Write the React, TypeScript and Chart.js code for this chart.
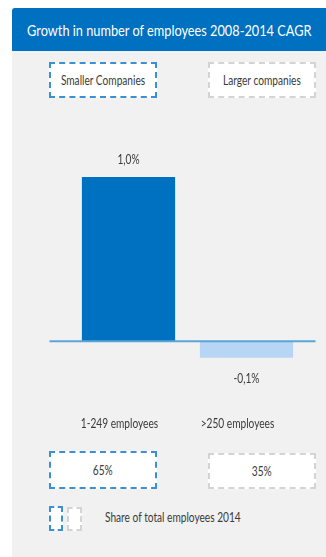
import React, { useEffect, useRef } from "react";
import { Chart, registerables } from "chart.js";

Chart.register(...registerables);

const title = "Growth in number of employees 2008-2014 CAGR";
const groupLabels = ["Smaller Companies", "Larger companies"];
const categories = ["1-249 employees", ">250 employees"];
const growthValues = [1.0, -0.1];
const growthLabels = ["1,0%", "-0,1%"];
const shareLabels = ["65%", "35%"];
const shareCaption = "Share of total employees 2014";

const FONT = "Lato, 'Open Sans', sans-serif";
const TEXT = "#3a3a3a";
const BLUE = "#0070c0";
const LIGHT = "#b7d5f4";
const SQ = 0.78;

function narrowText(ctx: CanvasRenderingContext2D, text: string, x: number, y: number) {
  ctx.save();
  ctx.translate(x, y);
  ctx.scale(SQ, 1);
  ctx.fillText(text, 0, 0);
  ctx.restore();
}

const valueLabelPlugin = {
  id: "valueLabels",
  afterDatasetsDraw(chart: any) {
    const ctx = chart.ctx;
    const meta = chart.getDatasetMeta(0);
    const yScale = chart.scales.y;
    const xScale = chart.scales.x;
    const zero = yScale.getPixelForValue(0);
    ctx.save();
    ctx.strokeStyle = "#5aa5d8";
    ctx.lineWidth = 2;
    ctx.beginPath();
    ctx.moveTo(chart.chartArea.left - 20, zero);
    ctx.lineTo(chart.chartArea.right + 10, zero);
    ctx.stroke();
    ctx.fillStyle = TEXT;
    ctx.font = `13px ${FONT}`;
    ctx.textAlign = "center";
    ctx.textBaseline = "middle";
    meta.data.forEach((bar: any, i: number) => {
      const v = growthValues[i];
      const y = v >= 0 ? bar.y - 17 : bar.y + 21;
      narrowText(ctx, growthLabels[i], bar.x, y);
    });
    categories.forEach((c, i) => {
      narrowText(ctx, c, xScale.getPixelForValue(i) - 9, chart.chartArea.bottom + 17);
    });
    ctx.restore();
  },
};

function BarChart() {
  const ref = useRef<HTMLCanvasElement>(null);
  useEffect(() => {
    if (!ref.current) return;
    const chart = new Chart(ref.current, {
      type: "bar",
      data: {
        labels: categories,
        datasets: [
          {
            data: growthValues,
            backgroundColor: [BLUE, LIGHT],
            borderWidth: 0,
            barPercentage: 0.79,
            categoryPercentage: 1,
          },
        ],
      },
      options: {
        animation: false,
        responsive: false,
        maintainAspectRatio: false,
        layout: { padding: { left: 29.5, right: 20.5, top: 34.2, bottom: 30 } },
        plugins: { legend: { display: false }, tooltip: { enabled: false }, title: { display: false } },
        scales: {
          x: { display: false, offset: true },
          y: { display: false, min: -0.4, max: 1.2 },
        },
      },
      plugins: [valueLabelPlugin],
    });
    return () => chart.destroy();
  }, []);
  return (
    <canvas
      ref={ref}
      width={286}
      height={327}
      style={{ position: "absolute", left: 40, top: 110, width: 286, height: 327 }}
    />
  );
}

const Narrow = ({ text, size = 13, scale = SQ, color = TEXT }: any) => (
  <span
    style={{
      display: "inline-block",
      whiteSpace: "nowrap",
      fontFamily: FONT,
      fontSize: size,
      color,
      transform: `scaleX(${scale})`,
      transformOrigin: "center",
    }}
  >
    {text}
  </span>
);

const box = (left: number, top: number, w: number, h: number, color: string, text: string) => (
  <div
    style={{
      position: "absolute",
      left,
      top,
      width: w,
      height: h,
      boxSizing: "border-box",
      border: `2px dashed ${color}`,
      background: "#ffffff",
      display: "flex",
      alignItems: "center",
      justifyContent: "center",
    }}
  >
    <Narrow text={text} />
  </div>
);

export default function App() {
  return (
    <div style={{ position: "absolute", left: 0, top: 0, width: 326, height: 557, background: "#ffffff" }}>
      <div style={{ position: "absolute", left: 12, top: 8, width: 314, height: 549, background: "#f1f1f1" }} />
      <div
        style={{
          position: "absolute",
          left: 12,
          top: 8,
          width: 314,
          height: 43,
          background: BLUE,
          borderTopLeftRadius: 3,
          display: "flex",
          alignItems: "center",
          justifyContent: "center",
        }}
      >
        <Narrow text={title} size={15} scale={0.85} color="#ffffff" />
      </div>
      {box(49, 62, 108, 36, "#3b8fd2", groupLabels[0])}
      {box(208, 62, 108, 36, "#d4d4d4", groupLabels[1])}
      <BarChart />
      {box(49, 451, 108, 38, "#3b8fd2", shareLabels[0])}
      {box(208, 453, 108, 36, "#d4d4d4", shareLabels[1])}
      <div style={{ position: "absolute", left: 49, top: 506, width: 14, height: 25, boxSizing: "border-box", border: "2px dashed #3b8fd2", background: "#fff" }} />
      <div style={{ position: "absolute", left: 67, top: 507, width: 15, height: 24, boxSizing: "border-box", border: "2px dashed #d4d4d4", background: "#fff" }} />
      <div style={{ position: "absolute", left: 105, top: 508, lineHeight: "18px", transformOrigin: "left" }}>
        <span style={{ display: "inline-block", whiteSpace: "nowrap", fontFamily: FONT, fontSize: 13, color: TEXT, transform: `scaleX(${SQ})`, transformOrigin: "left" }}>
          {shareCaption}
        </span>
      </div>
    </div>
  );
}
